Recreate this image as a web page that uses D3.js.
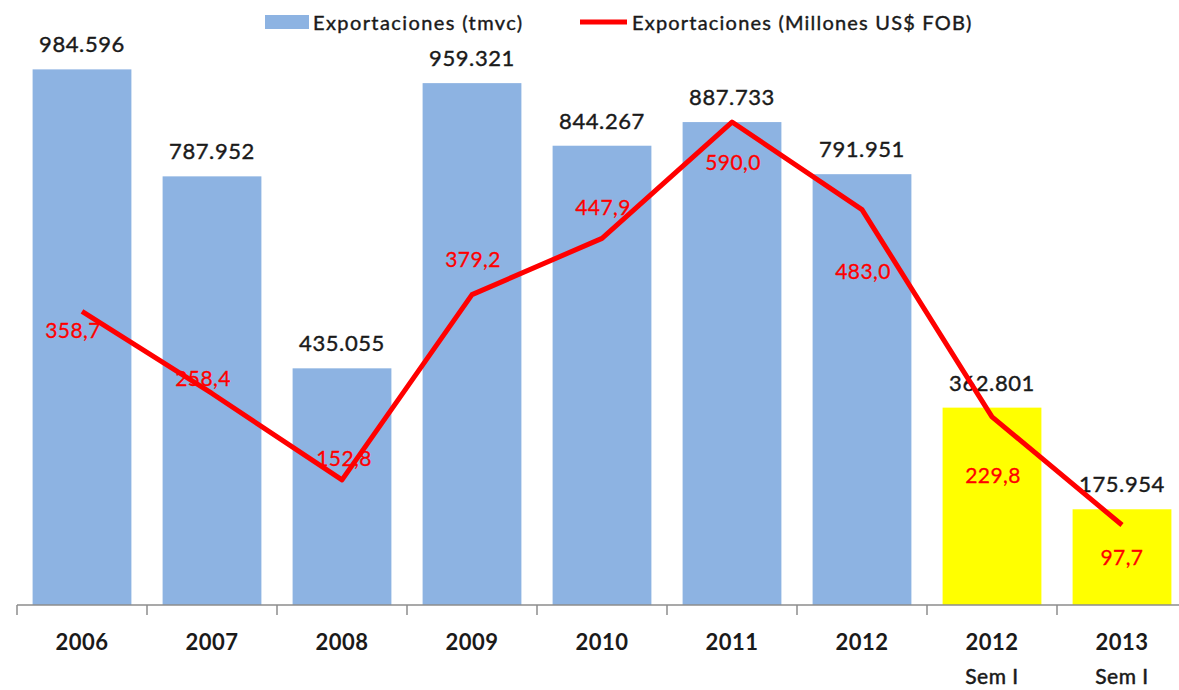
<!DOCTYPE html>
<html>
<head>
<meta charset="utf-8">
<script src="https://cdn.jsdelivr.net/npm/d3@7"></script>
<style>
  body { margin: 0; background: #fff; }
  svg text { font-family: Lato, "Open Sans", sans-serif; }
</style>
</head>
<body>
<svg id="chart" width="1179" height="690"></svg>
<script>
// categories (second line of label goes under the year)
const years = ["2006", "2007", "2008", "2009", "2010", "2011", "2012", "2012", "2013"];
const subLabels = ["", "", "", "", "", "", "", "Sem I", "Sem I"];
// Exportaciones (tmvc)
const tonnes = [984.596, 787.952, 435.055, 959.321, 844.267, 887.733, 791.951, 362.801, 175.954];
const tonneLabels = ["984.596", "787.952", "435.055", "959.321", "844.267", "887.733", "791.951", "362.801", "175.954"];
// Exportaciones (Millones US$ FOB)
const fob = [358.7, 258.4, 152.8, 379.2, 447.9, 590.0, 483.0, 229.8, 97.7];
const fobLabels = ["358,7", "258,4", "152,8", "379,2", "447,9", "590,0", "483,0", "229,8", "97,7"];
// semester bars are highlighted
const partial = [false, false, false, false, false, false, false, true, true];

// label offsets for the red values (as placed in the original)
const fobLabelDx = [-9, -9, 2, 1, 1, 1, 1, 1, 0];
const fobLabelDy = [19, -15, -22, -36, -31, 40, 61, 58, 32];

const svg = d3.select("#chart");
const baseY = 605;

const x = d3.scaleBand()
    .domain(d3.range(years.length))
    .range([17, 17 + 130 * years.length])
    .paddingInner(0.24)
    .paddingOuter(0.12);

const yBar = d3.scaleLinear().domain([0, 1000]).range([baseY, 61]);
const yLine = d3.scaleLinear().domain([0, 700]).range([baseY, 32]);

// bars
svg.append("g")
    .selectAll("rect")
    .data(tonnes)
    .join("rect")
        .attr("x", (d, i) => x(i))
        .attr("y", d => yBar(d))
        .attr("width", x.bandwidth())
        .attr("height", d => baseY - yBar(d))
        .attr("fill", (d, i) => partial[i] ? "#FFFF00" : "#8DB3E2");

// bar value labels
svg.append("g")
    .selectAll("text")
    .data(tonnes)
    .join("text")
        .attr("x", (d, i) => x(i) + x.bandwidth() / 2)
        .attr("y", d => yBar(d) - 17)
        .attr("text-anchor", "middle")
        .style("font-size", "22px")
        .style("letter-spacing", "0.6px")
        .style("fill", "#1a1a1a")
        .style("stroke", "#1a1a1a")
        .style("stroke-width", "0.4px")
        .text((d, i) => tonneLabels[i]);

// axis
const axisStep = 130;
const axis = svg.append("g");
axis.append("line")
    .attr("x1", 17).attr("x2", 1179)
    .attr("y1", baseY).attr("y2", baseY)
    .attr("stroke", "#8c8c8c").attr("stroke-width", 1.5);
d3.range(years.length + 1).forEach(i => {
    const tx = 17 + i * axisStep;
    axis.append("line")
        .attr("x1", tx).attr("x2", tx)
        .attr("y1", baseY).attr("y2", baseY + 10)
        .attr("stroke", "#8c8c8c").attr("stroke-width", 1.5);
});
years.forEach((yr, i) => {
    const cx = x(i) + x.bandwidth() / 2;
    axis.append("text")
        .attr("x", cx).attr("y", 650)
        .attr("text-anchor", "middle")
        .style("font-size", "22px").style("font-weight", "bold")
        .style("letter-spacing", "0.5px")
        .style("fill", "#1a1a1a")
        .text(yr);
    if (subLabels[i]) {
        axis.append("text")
            .attr("x", cx).attr("y", 684)
            .attr("text-anchor", "middle")
            .style("font-size", "21px")
            .style("letter-spacing", "0.5px")
            .style("fill", "#1a1a1a")
            .style("stroke", "#1a1a1a")
            .style("stroke-width", "0.5px")
            .text(subLabels[i]);
    }
});

// line
const line = d3.line()
    .x((d, i) => x(i) + x.bandwidth() / 2)
    .y(d => yLine(d));
svg.append("path")
    .datum(fob)
    .attr("d", line)
    .attr("fill", "none")
    .attr("stroke", "#FF0000")
    .attr("stroke-width", 5)
    .attr("stroke-linejoin", "round");

svg.append("g")
    .selectAll("text")
    .data(fob)
    .join("text")
        .attr("x", (d, i) => x(i) + x.bandwidth() / 2 + fobLabelDx[i])
        .attr("y", (d, i) => yLine(d) + fobLabelDy[i] + 8)
        .attr("text-anchor", "middle")
        .style("font-size", "21px")
        .style("letter-spacing", "0.4px")
        .style("fill", "#FF0000")
        .style("stroke", "#FF0000")
        .style("stroke-width", "0.3px")
        .text((d, i) => fobLabels[i]);

// legend
const legend = svg.append("g");
legend.append("rect")
    .attr("x", 265).attr("y", 15).attr("width", 44).attr("height", 14)
    .attr("fill", "#8DB3E2");
legend.append("text")
    .attr("x", 313).attr("y", 30)
    .style("font-size", "20px").style("letter-spacing", "1.4px")
    .style("fill", "#1a1a1a").style("stroke", "#1a1a1a").style("stroke-width", "0.4px")
    .text("Exportaciones (tmvc)");
legend.append("line")
    .attr("x1", 580).attr("x2", 627).attr("y1", 22).attr("y2", 22)
    .attr("stroke", "#FF0000").attr("stroke-width", 5);
legend.append("text")
    .attr("x", 632).attr("y", 30)
    .style("font-size", "20px").style("letter-spacing", "1.2px")
    .style("fill", "#1a1a1a").style("stroke", "#1a1a1a").style("stroke-width", "0.4px")
    .text("Exportaciones (Millones US$ FOB)");
</script>
</body>
</html>
